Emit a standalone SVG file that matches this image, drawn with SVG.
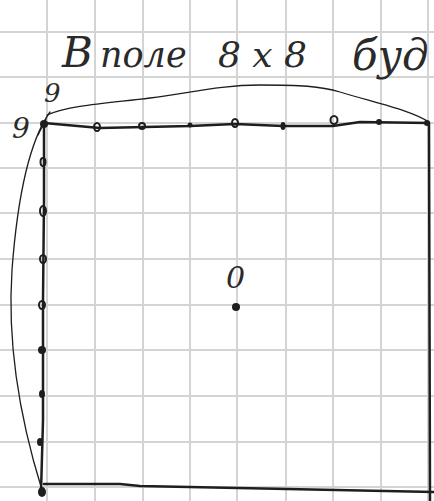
<svg xmlns="http://www.w3.org/2000/svg" width="434" height="501" viewBox="0 0 434 501">
<style>
.grid line{stroke:#d4d4d4;stroke-width:2}
.ink{fill:none;stroke:#1e1e1e;stroke-linecap:round;stroke-linejoin:round}
.hand{font-family:"DejaVu Serif","Liberation Serif",serif;font-style:italic;fill:#2a2a2a}
.dotf{fill:#1e1e1e}
.doto{fill:none;stroke:#1e1e1e;stroke-width:2}
</style>
<rect width="434" height="501" fill="#ffffff"/>
<g class="grid">
<line x1="0" y1="32" x2="434" y2="32"/><line x1="0" y1="77" x2="434" y2="77"/><line x1="0" y1="123" x2="434" y2="123"/><line x1="0" y1="168" x2="434" y2="168"/><line x1="0" y1="213" x2="434" y2="213"/><line x1="0" y1="259" x2="434" y2="259"/><line x1="0" y1="305" x2="434" y2="305"/><line x1="0" y1="350" x2="434" y2="350"/><line x1="0" y1="396" x2="434" y2="396"/><line x1="0" y1="442" x2="434" y2="442"/><line x1="0" y1="487" x2="434" y2="487"/>
<line x1="47" y1="0" x2="47" y2="501"/><line x1="95" y1="0" x2="95" y2="501"/><line x1="143" y1="0" x2="143" y2="501"/><line x1="190" y1="0" x2="190" y2="501"/><line x1="237" y1="0" x2="237" y2="501"/><line x1="286" y1="0" x2="286" y2="501"/><line x1="333" y1="0" x2="333" y2="501"/><line x1="381" y1="0" x2="381" y2="501"/><line x1="428" y1="0" x2="428" y2="501"/>
</g>
<g id="title">
<text class="hand" x="62" y="67" font-size="42">В</text>
<text class="hand" x="100" y="67" font-size="35">поле</text>
<text class="hand" x="218" y="67" font-size="36">8 х 8</text>
<text class="hand" x="352" y="70" font-size="42">буд</text>
</g>
<g id="connectors">
<path class="ink" stroke-width="2.5" d="M44 123 L100 128 L190 126 L235 124 L283 126 L333 126 L360 122 L429 123"/>
<path class="ink" stroke-width="2.5" d="M44 123 L44 200 L43 300 L43 420 L41 492"/>
<path class="ink" stroke-width="2.5" d="M44 484 L120 484 L140 486 L434 492"/>
<path class="ink" stroke-width="2.5" d="M429 123 L430 501"/>
<path class="ink" stroke-width="1.3" d="M47 115 C70 105 110 103 150 98 C190 93 220 85 260 85 C300 85 320 86 340 92 C380 104 410 110 429 122"/>
<path class="ink" stroke-width="1.3" d="M50 112 C30 140 18 190 12 270 C8 330 14 400 42 490"/>
<path class="ink" stroke-width="1.3" d="M46 119 L38 135"/>
</g>
<g id="top-dots">
<circle class="dotf" cx="44" cy="124" r="4"/>
<ellipse class="doto" cx="97" cy="127" rx="3" ry="4"/>
<ellipse class="doto" cx="142" cy="126" rx="3" ry="3"/>
<circle class="dotf" cx="190" cy="125" r="2.5"/>
<ellipse class="doto" cx="235" cy="123" rx="3" ry="4"/>
<ellipse class="dotf" cx="283" cy="126" rx="2.5" ry="4"/>
<ellipse class="doto" cx="334" cy="120" rx="3.5" ry="4"/>
<circle class="dotf" cx="379" cy="122" r="3"/>
<circle class="dotf" cx="427" cy="123" r="3"/>
</g>
<g id="left-dots">
<ellipse class="doto" cx="43" cy="162" rx="2.5" ry="4"/>
<ellipse class="doto" cx="43" cy="211" rx="3" ry="5"/>
<ellipse class="doto" cx="43" cy="259" rx="3" ry="4"/>
<ellipse class="doto" cx="42" cy="305" rx="3" ry="4"/>
<circle class="dotf" cx="42" cy="350" r="4"/>
<ellipse class="dotf" cx="42" cy="394" rx="3" ry="4"/>
<ellipse class="dotf" cx="40" cy="442" rx="3" ry="4"/>
<ellipse class="dotf" cx="42" cy="492" rx="4" ry="5"/>
</g>
<g id="labels">
<text class="hand" x="12" y="138" font-size="28">9</text>
<text class="hand" x="44" y="102" font-size="26">9</text>
<text class="hand" x="226" y="288" font-size="30">0</text>
<circle class="dotf" cx="236" cy="307" r="4"/>
</g>
</svg>
